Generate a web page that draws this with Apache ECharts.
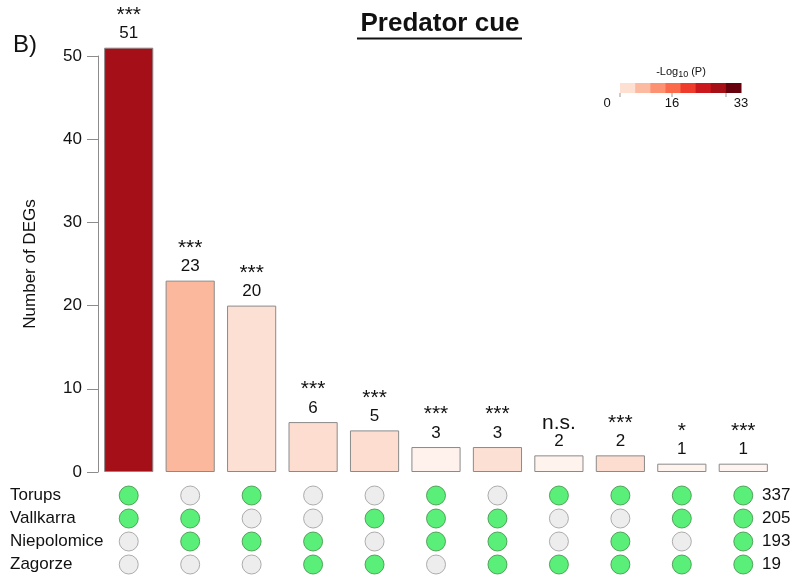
<!DOCTYPE html>
<html><head><meta charset="utf-8">
<script src="https://cdn.jsdelivr.net/npm/echarts@6/dist/echarts.min.js"></script>
<style>html,body{margin:0;padding:0;background:#fff}#chart{width:798px;height:580px}</style>
</head><body><div id="chart"></div>
<script>
// Intersection groups (which populations share the DEGs)
const combos = ['T+V', 'V+N', 'T+N', 'N+Z', 'V+Z', 'T+V+N', 'V+N+Z', 'T+Z', 'T+N+Z', 'T+V+Z', 'T+V+N+Z'];
const degCounts = [51, 23, 20, 6, 5, 3, 3, 2, 2, 1, 1];
const significance = ['***', '***', '***', '***', '***', '***', '***', 'n.s.', '***', '*', '***'];
const barColors = ['#a50f18', '#fcb89d', '#fde0d4', '#fcddd0', '#fcddd0', '#fff1ec', '#fde0d4', '#fff3ee', '#fcddd0', '#fff3ee', '#fff4f0'];

const populations = ['Torups', 'Vallkarra', 'Niepolomice', 'Zagorze'];
const populationTotals = ['337', '205', '193', '19'];
const memberTorups      = [1, 0, 1, 0, 0, 1, 0, 1, 1, 1, 1];
const memberVallkarra   = [1, 1, 0, 0, 1, 1, 1, 0, 0, 1, 1];
const memberNiepolomice = [0, 1, 1, 1, 0, 1, 1, 0, 1, 0, 1];
const memberZagorze     = [0, 0, 0, 1, 1, 0, 1, 1, 1, 1, 1];

const legendColors = ['#fee0d2', '#fcbba1', '#fc9272', '#fb6a4a', '#ef3b2c', '#cb181d', '#a50f15', '#67000d'];
const legendLabels = ['0', '16', '33'];

const FONT = '"Liberation Sans", Arial, Helvetica, sans-serif';
const membership = [memberTorups, memberVallkarra, memberNiepolomice, memberZagorze];

const dotData = [];
membership.forEach((row, r) => {
  row.forEach((m, c) => {
    dotData.push({
      value: [c, r],
      itemStyle: m
        ? { color: '#30eb58', borderColor: '#3f8f45', borderWidth: 1 }
        : { color: '#e9e9e9', borderColor: '#9a9a9a', borderWidth: 1 }
    });
  });
});

// colour-key graphic
const keyX = 620, keyY = 83, keyW = 121, keyH = 10;
const keyGraphics = legendColors.map((c, i) => ({
  type: 'rect',
  shape: { x: keyX + i * keyW / legendColors.length, y: keyY, width: keyW / legendColors.length + 0.5, height: keyH },
  style: { fill: c }
}));
[620, 672, 726].forEach(x => keyGraphics.push({
  type: 'line', shape: { x1: x, y1: keyY + keyH, x2: x, y2: keyY + keyH + 4 },
  style: { stroke: '#999', lineWidth: 1 }
}));
[[607, legendLabels[0]], [672, legendLabels[1]], [741, legendLabels[2]]].forEach(([x, t]) => keyGraphics.push({
  type: 'text', x: x, y: 103,
  style: { text: t, font: '13px ' + FONT, fill: '#111', align: 'center', verticalAlign: 'middle' }
}));
keyGraphics.push({
  type: 'text', x: 681, y: 72,
  style: {
    text: '{a|-Log}{b|10}{a| (P)}', align: 'center', verticalAlign: 'middle',
    rich: {
      a: { font: '11px ' + FONT, fill: '#111' },
      b: { font: '9px ' + FONT, fill: '#111', padding: [6, 0, 0, 0] }
    }
  }
});

const chart = echarts.init(document.getElementById('chart'));
chart.setOption({
  animation: false,
  backgroundColor: '#fff',
  textStyle: { fontFamily: FONT },
  grid: [
    { left: 98, right: 24, top: 56, bottom: 108 },
    { left: 98, right: 24, top: 484, bottom: 4 }
  ],
  xAxis: [
    { type: 'category', gridIndex: 0, data: combos, show: false },
    { type: 'category', gridIndex: 1, data: combos, show: false }
  ],
  yAxis: [
    {
      type: 'value', gridIndex: 0, min: 0, max: 50, interval: 10, offset: 0,
      name: 'Number of DEGs', nameLocation: 'middle', nameGap: 59, nameRotate: 90,
      nameTextStyle: { fontSize: 17, color: '#111', fontFamily: FONT },
      axisLine: { show: true, lineStyle: { color: '#8c8c8c', width: 1 } },
      axisTick: { show: true, length: 11, lineStyle: { color: '#8c8c8c' } },
      axisLabel: { fontSize: 17, color: '#111', margin: 16, fontFamily: FONT },
      splitLine: { show: false }
    },
    {
      type: 'category', gridIndex: 1, data: populations, inverse: true,
      axisLine: { show: false }, axisTick: { show: false },
      axisLabel: { align: 'left', margin: 88, fontSize: 17, color: '#111', fontFamily: FONT }
    },
    {
      type: 'category', gridIndex: 1, data: populationTotals, inverse: true, position: 'right',
      axisLine: { show: false }, axisTick: { show: false },
      axisLabel: { align: 'left', margin: -12, fontSize: 17, color: '#111', fontFamily: FONT }
    }
  ],
  title: [
    { text: 'B)', left: 8, top: 28, textStyle: { fontSize: 24, fontWeight: 'normal', color: '#111', fontFamily: FONT } }
  ],
  graphic: [
    { type: 'text', x: 440, y: 24, style: { text: 'Predator cue', font: 'bold 26px ' + FONT, fill: '#111', align: 'center', verticalAlign: 'middle' } },
    { type: 'line', shape: { x1: 357, y1: 38.5, x2: 522, y2: 38.5 }, style: { stroke: '#111', lineWidth: 2 } },
    ...keyGraphics
  ],
  series: [
    {
      type: 'bar', xAxisIndex: 0, yAxisIndex: 0, clip: false,
      barCategoryGap: '20%',
      data: degCounts.map((v, i) => ({ value: v, itemStyle: { color: barColors[i] } })),
      itemStyle: { borderColor: '#8a8a8a', borderWidth: 1 },
      label: {
        show: true, position: 'top', distance: 4, align: 'center',
        formatter: p => '{s|' + significance[p.dataIndex] + '}\n{v|' + p.value + '}',
        rich: {
          s: { fontSize: 21, color: '#111', lineHeight: 17, fontFamily: FONT, padding: [0, 0, 0, 0] },
          v: { fontSize: 17, color: '#111', lineHeight: 20, fontFamily: FONT }
        }
      }
    },
    {
      type: 'scatter', xAxisIndex: 1, yAxisIndex: 1, symbol: 'circle', symbolSize: 19,
      data: dotData
    }
  ]
});
</script>
</body></html>
